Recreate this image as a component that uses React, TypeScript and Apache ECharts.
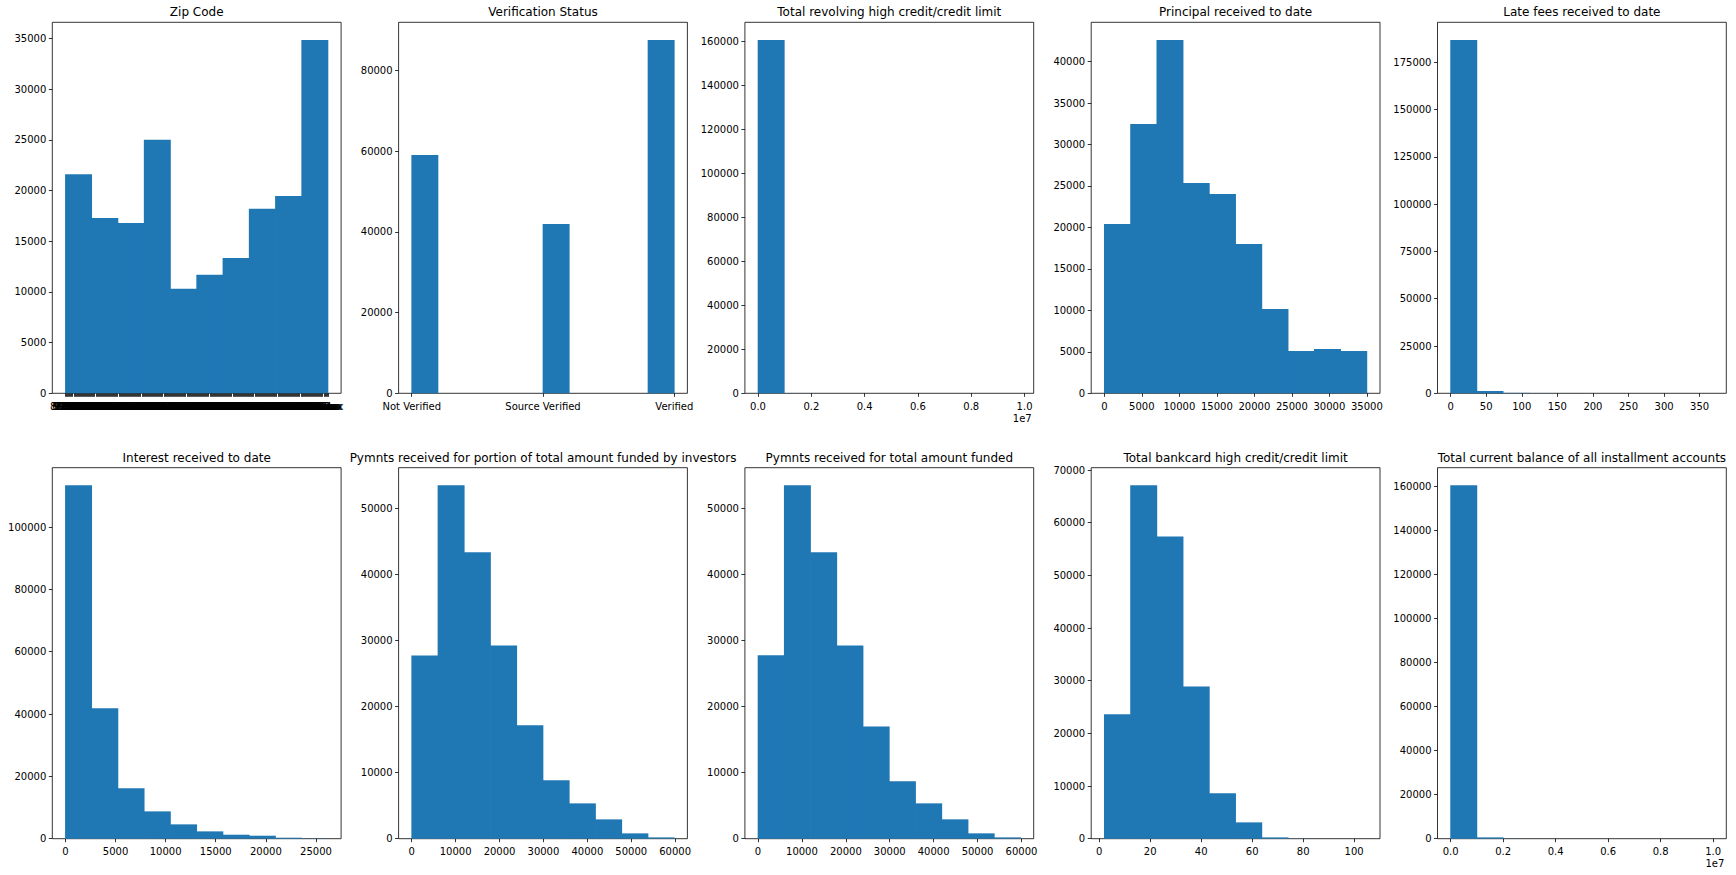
import React, { useEffect, useRef } from "react";
import * as echarts from "echarts";

// ---------- data ----------
const titles = [
  "Zip Code",
  "Verification Status",
  "Total revolving high credit/credit limit",
  "Principal received to date",
  "Late fees received to date",
  "Interest received to date",
  "Pymnts received for portion of total amount funded by investors",
  "Pymnts received for total amount funded",
  "Total bankcard high credit/credit limit",
  "Total current balance of all installment accounts",
];

const zipPrefixes = [
  "860", "309", "606", "917", "972", "852", "280", "900", "958", "774", "853", "913", "245", "951", "641", "921", "067", "890", "770", "335",
  "799", "605", "103", "150", "326", "564", "141", "080", "330", "974", "934", "405", "946", "445", "850", "292", "088", "180", "029", "700",
  "010", "441", "104", "061", "616", "947", "914", "765", "980", "017", "752", "787", "077", "540", "225", "440", "437", "559", "912", "325",
  "300", "923", "352", "013", "146", "074", "786", "937", "331", "115", "191", "114", "908", "902", "992", "750", "950", "329", "226", "614",
  "802", "672", "083", "100", "926", "931", "712", "060", "707", "342", "895", "430", "919", "996", "891", "935", "801", "928", "233", "927",
  "970", "211", "303", "070", "194", "263", "403", "301", "553", "993", "312", "432", "601", "945", "481", "207", "537", "461", "113", "206",
  "085", "327", "378", "208", "117", "751", "190", "631", "982", "304", "775", "334", "220", "282", "112", "197", "322", "762", "760", "956",
  "604", "271", "193", "630", "333", "076", "210", "117", "916", "481", "294", "078", "212", "322", "920", "112", "328", "296", "018", "021",
  "640", "275", "981", "983", "941", "940", "959", "973", "976", "841", "840", "857", "856", "894", "893", "889", "891", "880", "870", "871",
  "801", "803", "805", "806", "810", "813", "816", "820", "826", "830", "832", "836", "837", "838", "590", "591", "593", "594", "597", "598",
  "570", "571", "573", "574", "575", "577", "580", "581", "582", "583", "584", "585", "586", "587", "588", "550", "551", "553", "554", "556",
  "557", "558", "560", "561", "562", "563", "565", "566", "567", "530", "531", "532", "534", "535", "537", "538", "539", "541", "542", "543",
  "544", "545", "546", "547", "548", "549", "500", "501", "502", "503", "504", "505", "506", "507", "508", "510", "511", "512", "513", "514",
];
const zipCodes = Array.from(new Set(zipPrefixes)).map((p) => p + "xx");
const zipCounts = [21600, 17300, 16800, 25000, 10300, 11700, 13350, 18200, 19450, 34850];
const zipYTicks = [0, 5000, 10000, 15000, 20000, 25000, 30000, 35000];

const verifCategories = ["Not Verified", "Source Verified", "Verified"];
const verifCounts = [59100, 0, 0, 0, 0, 42000, 0, 0, 0, 87600];
const verifYTicks = [0, 20000, 40000, 60000, 80000];
const verifXTicks = [0, 1, 2];

const revolRange = [0, 9850000];
const revolCounts = [160700, 45, 9, 3, 1, 0, 0, 0, 0, 1];
const revolYTicks = [0, 20000, 40000, 60000, 80000, 100000, 120000, 140000, 160000];
const e7XTicks = [0, 2000000, 4000000, 6000000, 8000000, 10000000];

const principalRange = [0, 35000];
const principalCounts = [20420, 32480, 42610, 25370, 24040, 18010, 10170, 5105, 5350, 5105];
const principalYTicks = [0, 5000, 10000, 15000, 20000, 25000, 30000, 35000, 40000];
const principalXTicks = [0, 5000, 10000, 15000, 20000, 25000, 30000, 35000];

const lateRange = [0, 369];
const lateCounts = [186800, 1230, 210, 60, 20, 8, 3, 1, 1, 1];
const lateYTicks = [0, 25000, 50000, 75000, 100000, 125000, 150000, 175000];
const lateXTicks = [0, 50, 100, 150, 200, 250, 300, 350];

const interestRange = [0, 26200];
const interestCounts = [113370, 41820, 16150, 8770, 4600, 2350, 1280, 960, 320, 80];
const interestYTicks = [0, 20000, 40000, 60000, 80000, 100000];
const interestXTicks = [0, 5000, 10000, 15000, 20000, 25000];

const pymntInvRange = [0, 59800];
const pymntInvCounts = [27720, 53430, 43300, 29230, 17140, 8820, 5340, 2920, 806, 200];
const pymntRange = [0, 59800];
const pymntCounts = [27750, 53480, 43340, 29260, 17000, 8680, 5350, 2930, 810, 200];
const pymntYTicks = [0, 10000, 20000, 30000, 40000, 50000];
const pymntXTicks = [0, 10000, 20000, 30000, 40000, 50000, 60000];

const bankcardRange = [2, 105];
const bankcardCounts = [23610, 67090, 57400, 28920, 8610, 3100, 250, 25, 5, 1];
const bankcardYTicks = [0, 10000, 20000, 30000, 40000, 50000, 60000, 70000];
const bankcardXTicks = [0, 20, 40, 60, 80, 100];

const instRange = [0, 10000000];
const instCounts = [160450, 600, 40, 8, 2, 1, 0, 0, 0, 1];
const instYTicks = [0, 20000, 40000, 60000, 80000, 100000, 120000, 140000, 160000];

// ---------- layout ----------
const colLeft = [52.3, 398.6, 744.9, 1091.2, 1437.5];
const rowTop = [22.3, 467.7];
const axW = 288.8;
const axH = 371;
const BLUE = "#1f77b4";
const FONT = "DejaVu Sans";

type Panel = {
  title: string;
  counts: number[];
  lo: number;
  hi: number;
  yTicks: number[];
  xTicks: number[] | null;
  xFmt: (v: number) => string;
  offset?: string;
};

const plain = (v: number) => String(v);
const e7 = (v: number) => (v / 1e7).toFixed(1);

const panels: Panel[] = [
  { title: titles[0], counts: zipCounts, lo: 0, hi: zipCodes.length - 1, yTicks: zipYTicks, xTicks: null, xFmt: plain },
  { title: titles[1], counts: verifCounts, lo: 0, hi: 2, yTicks: verifYTicks, xTicks: verifXTicks, xFmt: (v) => verifCategories[Math.round(v)] },
  { title: titles[2], counts: revolCounts, lo: revolRange[0], hi: revolRange[1], yTicks: revolYTicks, xTicks: e7XTicks, xFmt: e7, offset: "1e7" },
  { title: titles[3], counts: principalCounts, lo: principalRange[0], hi: principalRange[1], yTicks: principalYTicks, xTicks: principalXTicks, xFmt: plain },
  { title: titles[4], counts: lateCounts, lo: lateRange[0], hi: lateRange[1], yTicks: lateYTicks, xTicks: lateXTicks, xFmt: plain },
  { title: titles[5], counts: interestCounts, lo: interestRange[0], hi: interestRange[1], yTicks: interestYTicks, xTicks: interestXTicks, xFmt: plain },
  { title: titles[6], counts: pymntInvCounts, lo: pymntInvRange[0], hi: pymntInvRange[1], yTicks: pymntYTicks, xTicks: pymntXTicks, xFmt: plain },
  { title: titles[7], counts: pymntCounts, lo: pymntRange[0], hi: pymntRange[1], yTicks: pymntYTicks, xTicks: pymntXTicks, xFmt: plain },
  { title: titles[8], counts: bankcardCounts, lo: bankcardRange[0], hi: bankcardRange[1], yTicks: bankcardYTicks, xTicks: bankcardXTicks, xFmt: plain },
  { title: titles[9], counts: instCounts, lo: instRange[0], hi: instRange[1], yTicks: instYTicks, xTicks: e7XTicks, xFmt: e7, offset: "1e7" },
];

function buildOption() {
  const grid: any[] = [];
  const xAxis: any[] = [];
  const yAxis: any[] = [];
  const series: any[] = [];
  const graphic: any[] = [];

  const tickStyle = { show: true, inside: false, length: 3.5, lineStyle: { color: "#000", width: 0.8 } };
  const labelStyle = { color: "#000", fontSize: 10, fontFamily: FONT };
  const noLine = { show: false, onZero: false };

  panels.forEach((p, i) => {
    const left = colLeft[i % 5];
    const top = rowTop[Math.floor(i / 5)];
    grid.push({ left, top, width: axW, height: axH, show: true, borderColor: "#000", borderWidth: 0.8, backgroundColor: "transparent", containLabel: false });
    const pad = 0.05 * (p.hi - p.lo);
    const ymax = 1.05 * Math.max(...p.counts);
    const isZip = p.xTicks === null;
    xAxis.push({
      type: "value",
      gridIndex: i,
      position: "bottom",
      min: p.lo - pad,
      max: p.hi + pad,
      axisLine: noLine,
      splitLine: { show: false },
      axisTick: isZip ? { show: false } : { ...tickStyle, customValues: p.xTicks },
      axisLabel: isZip
        ? { show: false }
        : { ...labelStyle, margin: 8, customValues: p.xTicks, formatter: (v: number) => p.xFmt(v) },
    });
    yAxis.push({
      type: "value",
      gridIndex: i,
      position: "left",
      min: 0,
      max: ymax,
      axisLine: noLine,
      splitLine: { show: false },
      axisTick: { ...tickStyle, customValues: p.yTicks },
      axisLabel: { ...labelStyle, margin: 6, customValues: p.yTicks, formatter: (v: number) => String(v) },
    });
    const w = (p.hi - p.lo) / p.counts.length;
    const data = p.counts.map((c, k) => [p.lo + k * w, p.lo + (k + 1) * w, c]);
    series.push({
      type: "custom",
      xAxisIndex: i,
      yAxisIndex: i,
      data,
      encode: { x: [0, 1], y: 2 },
      renderItem: (params: any, api: any) => {
        const p0 = api.coord([api.value(0), 0]);
        const p1 = api.coord([api.value(1), api.value(2)]);
        const h = p0[1] - p1[1];
        if (!(h > 0)) return null;
        return {
          type: "rect",
          shape: { x: p0[0] - 0.35, y: p1[1], width: p1[0] - p0[0] + 0.7, height: h },
          style: { fill: BLUE },
        };
      },
    });
    graphic.push({
      type: "text",
      x: left + axW / 2,
      y: top - 4,
      style: { text: p.title, align: "center", verticalAlign: "bottom", fontSize: 12, fontFamily: FONT, fill: "#000" },
    });
    if (p.offset) {
      graphic.push({
        type: "text",
        x: left + axW - 2,
        y: top + axH + 20,
        style: { text: p.offset, align: "right", verticalAlign: "top", fontSize: 10, fontFamily: FONT, fill: "#000" },
      });
    }
  });

  // category label axis for zip codes, spanning the category positions
  const zipPad = 0.05 / 1.1;
  const zl = colLeft[0] + axW * zipPad;
  const zw = axW * (1 / 1.1);
  grid.push({ left: zl, top: rowTop[0], width: zw, height: axH, show: false });
  const gi = grid.length - 1;
  xAxis.push({
    type: "category",
    gridIndex: gi,
    position: "bottom",
    data: zipCodes,
    boundaryGap: false,
    axisLine: noLine,
    splitLine: { show: false },
    axisTick: { ...tickStyle, interval: 0 },
    axisLabel: { ...labelStyle, margin: 8, interval: 0, hideOverlap: false },
  });
  yAxis.push({ type: "value", gridIndex: gi, show: false, min: 0, max: 1, axisLine: noLine });

  return { animation: false, backgroundColor: "#fff", grid, xAxis, yAxis, series, graphic };
}

export default function App() {
  const ref = useRef<HTMLDivElement>(null);
  useEffect(() => {
    if (!ref.current) return;
    const chart = echarts.init(ref.current, undefined, { renderer: "svg" });
    chart.setOption(buildOption() as any);
    return () => chart.dispose();
  }, []);
  return <div ref={ref} style={{ position: "absolute", left: 0, top: 0, width: 1736, height: 875, background: "#fff" }} />;
}
